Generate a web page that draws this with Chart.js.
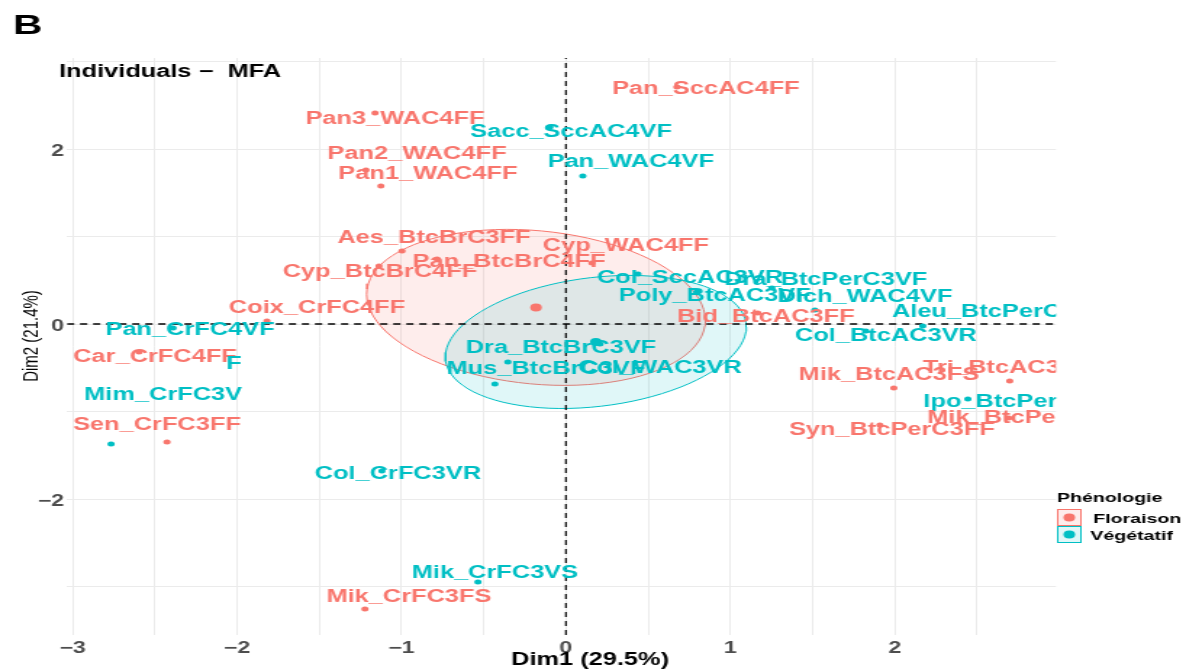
<!DOCTYPE html>
<html>
<head>
<meta charset="utf-8">
<script src="https://cdn.jsdelivr.net/npm/chart.js@4.4.1/dist/chart.umd.min.js"></script>
<style>
body{margin:0;background:#fff;}
</style>
</head>
<body>
<canvas id="mfa" width="818" height="672" style="display:block;width:1186px;height:672px"></canvas>
<script>

// individuals, coordinates on Dim1 / Dim2
let groups=["Floraison","Végétatif"];

let floraisonNames=["Pan_SccAC4FF","Pan3_WAC4FF","Pan2_WAC4FF","Pan1_WAC4FF","Aes_BtcBrC3FF","Cyp_WAC4FF","Pan_BtcBrC4FF","Cyp_BtcBrC4FF","Coix_CrFC4FF","Car_CrFC4FF","Sen_CrFC3FF","Bid_BtcAC3FF","Mik_BtcAC3FS","Tri_BtcAC3FF","Mik_BtcPerC3FS","Syn_BtcPerC3FF","Mik_CrFC3FS"];
let floraisonDim1=[0.675,-1.161,-1.216,-1.125,-0.997,0.158,-0.784,-1.137,-1.818,-2.596,-2.426,1.167,1.994,2.699,2.693,1.909,-1.222];
let floraisonDim2=[2.709,2.411,1.76,1.577,0.834,0.697,0.743,0.663,0.034,-0.32,-1.349,0.126,-0.731,-0.651,-1.074,-1.154,-3.257];

let vegetatifNames=["Sacc_SccAC4VF","Pan_WAC4VF","Col_SccAC3VR","Dra_BtcPerC3VF","Poly_BtcAC3VF","Dich_WAC4VF","Aleu_BtcPerC3VF","Col_BtcAC3VR","Ipo_BtcPerC3VF","Dra_BtcBrC3VF","Mus_BtcBrC3VF","Col_WAC3VR","Pan_CrFC4VF","Mim_CrFC3V","Col_CrFC3VR","Mik_CrFC3VS"];
let vegetatifDim1=[-0.097,0.103,0.438,1.252,0.796,1.514,2.170,1.824,2.444,-0.353,-0.432,0.207,-2.389,-2.766,-1.119,-0.535];
let vegetatifDim2=[2.251,1.691,0.571,0.411,0.366,0.16,-0.023,-0.08,-0.857,-0.434,-0.686,-0.229,-0.046,-1.371,-1.68,-2.949];

// group centres and confidence ellipses
let meanDim1=[-0.182,0.182];
let meanDim2=[0.19,-0.205];
let ellRx=[1.03,0.915];
let ellRy=[0.879,0.741];
let ellTilt=[-0.149,0.171];

// axes
let dim1Grid=[-3,-2.5,-2,-1.5,-1,-0.5,0,0.5,1,1.5,2,2.5];
let dim1Ticks=[-3,-2,-1,0,1,2];
let dim2Grid=[-3,-2,-1,0,1,2,3];
let dim2Ticks=[-2,0,2];
let xMin=-3.034,xMax=2.98,yMin=-3.554,yMax=3.04;

let colors=["#F8766D","#00BFC4"];
let fills=["rgba(248,118,109,0.13)","rgba(0,191,196,0.12)"];

// label nudges from the point, in canvas px
let labelNudge={
"Pan_SccAC4FF":[20,7],"Pan3_WAC4FF":[13.8,11],"Pan2_WAC4FF":[35.2,-11],"Pan1_WAC4FF":[32.4,-7],
"Aes_BtcBrC3FF":[22.1,-8],"Cyp_WAC4FF":[23.4,-12],"Pan_BtcBrC4FF":[49.7,8],"Cyp_BtcBrC4FF":[0.7,11],
"Coix_CrFC4FF":[34.5,-8],"Car_CrFC4FF":[11,10],"Sen_CrFC3FF":[-6.9,-12],"Bid_BtcAC3FF":[5.5,9],
"Mik_BtcAC3FS":[-3.4,-8],"Tri_BtcAC3FF":[-2,-8],"Mik_BtcPerC3FS":[13.8,5],"Syn_BtcPerC3FF":[8.3,10],
"Mik_CrFC3FS":[30.3,-7],
"Sacc_SccAC4VF":[14.5,10],"Pan_WAC4VF":[33.1,-9],"Col_SccAC3VR":[35.9,9],"Dra_BtcPerC3VF":[37.2,-3],
"Poly_BtcAC3VF":[12.4,9],"Dich_WAC4VF":[34.5,-8],"Aleu_BtcPerC3VF":[53.1,-9],"Col_BtcAC3VR":[13.8,10],
"Ipo_BtcPerC3VF":[37.9,8],"Dra_BtcBrC3VF":[36.6,-9],"Mus_BtcBrC3VF":[35.2,-10],"Col_WAC3VR":[41.4,29],
"Pan_CrFC4VF":[11.7,7],"Mim_CrFC3V":[35.9,-44],"Col_CrFC3VR":[11,8],"Mik_CrFC3VS":[11.7,-4]
};
let strayText=[{text:"F",x:-2.018,y:-0.514,group:1}];

let labelFont="bold 17.5px 'Liberation Sans', Arial, sans-serif";

function points(xs,ys){
return xs.map((v,i)=>({x:v,y:ys[i]}));
}

function ellipse(g){
let pts=[];
for(let k=0;k<=90;k++){
let t=k/90*2*Math.PI;
pts.push({x:meanDim1[g]+ellRx[g]*Math.cos(t),y:meanDim2[g]+ellTilt[g]*Math.cos(t)+ellRy[g]*Math.sin(t)});
}
return pts;
}

function minus(v){
return v<0?"\u2212"+Math.abs(v):String(v);
}

let names=[floraisonNames,vegetatifNames];

let textLayer={
id:"textLayer",
afterDatasetsDraw(chart){
let ctx=chart.ctx,a=chart.chartArea;
ctx.save();
ctx.beginPath();
ctx.rect(a.left,a.top,a.right-a.left,a.bottom-a.top);
ctx.clip();
ctx.font=labelFont;
ctx.textAlign="center";
ctx.textBaseline="alphabetic";
[1,0].forEach(g=>{
let meta=chart.getDatasetMeta(g);
ctx.fillStyle=colors[g];
meta.data.forEach((pt,i)=>{
let n=names[g][i];
let d=labelNudge[n]||[0,-6];
ctx.fillText(n,pt.x+d[0],pt.y+d[1]);
});
});
strayText.forEach(s=>{
ctx.fillStyle=colors[s.group];
ctx.fillText(s.text,chart.scales.x.getPixelForValue(s.x),chart.scales.y.getPixelForValue(s.y));
});
ctx.restore();
},
afterDraw(chart){
let ctx=chart.ctx;
ctx.save();
ctx.fillStyle="#000";
ctx.textBaseline="alphabetic";
ctx.textAlign="left";
ctx.font="bold 28px 'Liberation Sans', Arial, sans-serif";
ctx.fillText("B",9,34);
ctx.font=labelFont;
ctx.fillText("Individuals \u2212  MFA",40.7,77);
ctx.textAlign="center";
ctx.fillText("Dim1 (29.5%)",407,665);
ctx.save();
ctx.translate(22,336);
ctx.rotate(-Math.PI/2);
ctx.textBaseline="middle";
ctx.font="15px 'Liberation Sans', Arial, sans-serif";
ctx.fillText("Dim2 (21.4%)",0,0);
ctx.restore();

// legend
ctx.textAlign="left";
ctx.font="bold 13.5px 'Liberation Sans', Arial, sans-serif";
ctx.fillText("Phénologie",729,502);
groups.forEach((g,i)=>{
let top=509+i*17;
ctx.fillStyle="#fff";
ctx.fillRect(729,top,17,17);
ctx.fillStyle=fills[i];
ctx.fillRect(729,top,17,17);
ctx.strokeStyle=colors[i];
ctx.lineWidth=1;
ctx.strokeRect(729.5,top+0.5,16,16);
ctx.fillStyle=colors[i];
ctx.beginPath();
ctx.arc(737.5,top+8.5,4,0,2*Math.PI);
ctx.fill();
ctx.fillStyle="#000";
ctx.fillText(g,i===0?754:752,top+14);
});
ctx.restore();
}
};

new Chart(document.getElementById("mfa"),{
type:"scatter",
data:{
datasets:[
{label:groups[0],data:points(floraisonDim1,floraisonDim2),backgroundColor:colors[0],pointRadius:2.5,pointBorderWidth:0,order:3},
{label:groups[1],data:points(vegetatifDim1,vegetatifDim2),backgroundColor:colors[1],pointRadius:2.5,pointBorderWidth:0,order:3},
{label:"mean "+groups[0],data:[{x:meanDim1[0],y:meanDim2[0]}],backgroundColor:colors[0],pointRadius:4,pointBorderWidth:0,order:2},
{label:"mean "+groups[1],data:[{x:meanDim1[1],y:meanDim2[1]}],backgroundColor:colors[1],pointRadius:4,pointBorderWidth:0,order:2},
{type:"line",data:ellipse(0),borderColor:colors[0],borderWidth:1,backgroundColor:fills[0],fill:"shape",pointRadius:0,tension:0,order:10},
{type:"line",data:ellipse(1),borderColor:colors[1],borderWidth:1,backgroundColor:fills[1],fill:"shape",pointRadius:0,tension:0,order:9},
{type:"line",data:[{x:xMin,y:0},{x:xMax,y:0}],borderColor:"#000",borderWidth:1.3,borderDash:[5,4],pointRadius:0,fill:false,order:8},
{type:"line",data:[{x:0,y:yMin},{x:0,y:yMax}],borderColor:"#000",borderWidth:1.2,borderDash:[5,4],pointRadius:0,fill:false,order:8}
]
},
options:{
responsive:false,
devicePixelRatio:1,
animation:false,
events:[],
layout:{padding:{top:58,right:89.7,left:0,bottom:0}},
plugins:{legend:{display:false},tooltip:{enabled:false}},
scales:{
x:{
type:"linear",min:xMin,max:xMax,
afterBuildTicks:s=>{s.ticks=dim1Grid.map(v=>({value:v}));},
afterFit:s=>{s.height=37;},
grid:{color:"#EBEBEB",lineWidth:1,drawTicks:false},
border:{display:false},
ticks:{autoSkip:false,maxRotation:0,padding:4,color:"#4D4D4D",
font:{family:"'Liberation Sans', Arial, sans-serif",size:16,weight:"bold"},
callback:v=>dim1Ticks.includes(v)?minus(v):""}
},
y:{
type:"linear",min:yMin,max:yMax,
afterBuildTicks:s=>{s.ticks=dim2Grid.map(v=>({value:v}));},
afterFit:s=>{s.width=46.2;},
grid:{color:"#EBEBEB",lineWidth:1,drawTicks:false},
border:{display:false},
ticks:{autoSkip:false,padding:2,labelOffset:3,color:"#4D4D4D",
font:{family:"'Liberation Sans', Arial, sans-serif",size:16,weight:"bold"},
callback:v=>dim2Ticks.includes(v)?minus(v):""}
}
}
},
plugins:[textLayer]
});

</script>
</body>
</html>
